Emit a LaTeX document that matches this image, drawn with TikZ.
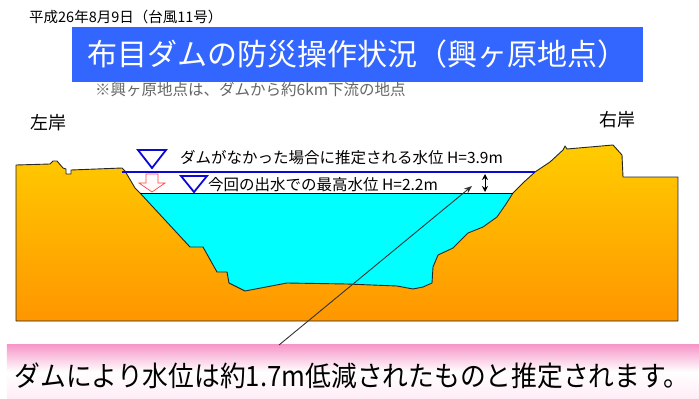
\documentclass[tikz,border=0pt]{standalone}
\usepackage{fontspec}
\usepackage{graphicx}
\newfontfamily\jp{Noto Sans CJK JP}
\usetikzlibrary{arrows.meta}
\definecolor{titleblue}{RGB}{51,102,255}
\definecolor{groundtop}{RGB}{255,204,0}
\definecolor{groundbot}{RGB}{255,150,0}
\definecolor{river}{RGB}{0,255,255}
\definecolor{levelblue}{RGB}{10,10,210}
\definecolor{notepink}{RGB}{246,150,200}
\definecolor{notelight}{RGB}{255,235,245}
\definecolor{dropred}{RGB}{255,70,70}
\tikzset{
  txt/.style={inner sep=0pt, font=\jp},
  marker/.style={draw=levelblue, line width=1.8pt, line join=miter},
  groundline/.style={draw=black!85, line width=0.9pt, line join=round},
}
\begin{document}
\begin{tikzpicture}[x=1pt,y=-1pt]
\useasboundingbox (0,0) rectangle (699,399);
\fill[white] (0,0) rectangle (699,399);

% date line
\node[txt, anchor=west, font=\jp\fontsize{14.5}{16}\selectfont] (date) at (29,17) {平成26年8月9日（台風11号）};

% title banner
\node[fill=titleblue, minimum width=571pt, minimum height=55pt, inner sep=0pt,
      text=white, font=\jp\fontsize{30}{34}\selectfont] (title) at (357.5,54.5) {布目ダムの防災操作状況（興ヶ原地点）};

% note under the title
\node[txt, anchor=west, text=black!60, font=\jp\fontsize{15.5}{18}\selectfont] (sub) at (95,90) {※興ヶ原地点は、ダムから約6km下流の地点};

% bank labels
\node[txt, font=\jp\fontsize{18}{20}\selectfont] (left) at (48,123) {左岸};
\node[txt, font=\jp\fontsize{18}{20}\selectfont] (right) at (617,120) {右岸};

% ground section
\def\groundpath{(16,321) -- (16,165) -- (50,164) -- (53,161) -- (57,161) -- (63,168) -- (66,169) -- (66,174) -- (71,174) -- (71,170) -- (122,168) -- (125,171) -- (135,188) -- (140,193)
 -- (190,247) -- (203,247) -- (217,272) -- (227,272) -- (229,283) -- (245,291) -- (287,283) -- (347,284) -- (397,286) -- (413,289) -- (423,287) -- (432,283) -- (433,267) -- (438,255) -- (453,248) -- (468,233) -- (483,227) -- (497,217) -- (506,204) -- (513,193)
 -- (524,182) -- (535,172) -- (550,162) -- (563,150) -- (565,146) -- (567,149) -- (613,145) -- (622,155) -- (623,177) -- (678,177) -- (678,321) -- cycle}
\shade[top color=groundtop, bottom color=groundbot] \groundpath;
% river water
\fill[river] (140,193) -- (190,247) -- (203,247) -- (217,272) -- (227,272) -- (229,283) -- (245,291) -- (287,283) -- (347,284) -- (397,286) -- (413,289) -- (423,287) -- (432,283) -- (433,267) -- (438,255) -- (453,248) -- (468,233) -- (483,227) -- (497,217) -- (506,204) -- (513,193) -- cycle;
\draw[groundline] \groundpath;

% water levels
\coordinate (hiL) at (122,172);
\coordinate (hiR) at (535,172);
\coordinate (loL) at (140,193);
\coordinate (loR) at (513,193);
\draw[levelblue, line width=2.6pt] (hiL) -- (hiR);
\draw[black, line width=0.8pt] (loL) -- (loR);

% level markers
\draw[marker] (138,150) -- (166,150) -- (152,168) -- cycle;
\draw[marker] (181,176) -- (207,176) -- (194,192) -- cycle;

% level labels
\node[txt, anchor=west, font=\jp\fontsize{15.5}{18}\selectfont] (lab1) at (180,158) {ダムがなかった場合に推定される水位 H=3.9m};
\node[txt, anchor=west, font=\jp\fontsize{15.5}{18}\selectfont] (lab2) at (208,185) {今回の出水での最高水位 H=2.2m};

% drop arrow
\shade[top color=white, bottom color=pink!15, draw=dropred, line width=0.7pt]
  (146,174) -- (158,174) -- (158,183) -- (165,183) -- (152,192) -- (139,183) -- (146,183) -- cycle;

% level difference
\coordinate (difA) at (485,174);
\coordinate (difB) at (485,192);
\draw[{Stealth[length=6pt,width=6pt]}-{Stealth[length=6pt,width=6pt]}, line width=1pt] (difA) -- (difB);

% conclusion box
\node[minimum width=692pt, minimum height=55pt, inner sep=0pt] (note) at (353,372) {};
\shade[top color=notepink, bottom color=notelight, middle color=white] (note.north west) rectangle (note.south east);
\node[txt, font=\jp\fontsize{28}{32}\selectfont] (notetext) at (352,376) {\scalebox{0.92}[1]{ダムにより水位は約1.7m低減されたものと推定されます。}};

% pointer
\coordinate (ptrfoot) at (279,345);
\coordinate (ptrtip) at (472,186);
\draw[black!80, line width=0.9pt, -{Stealth[length=8pt,width=6pt]}] (ptrfoot) -- (ptrtip);
\end{tikzpicture}
\end{document}
